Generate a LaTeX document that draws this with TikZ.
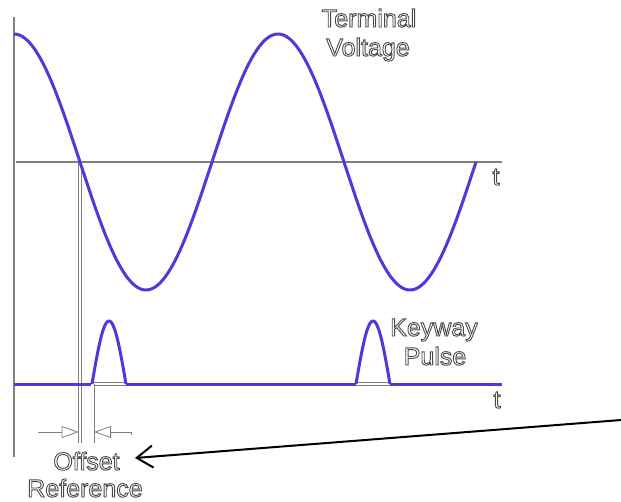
\documentclass[tikz,border=0pt]{standalone}
\usepackage{fontspec}
\setsansfont{Liberation Sans}
\usetikzlibrary{arrows.meta}
\definecolor{wave}{HTML}{5535DC}
\definecolor{axisgray}{HTML}{808080}
\definecolor{textgray}{HTML}{484848}
\newcommand\outltext[1]{\special{pdf:literal direct 1 Tr 0.9 w}#1\special{pdf:literal direct 0 Tr}}
\tikzset{
  axisline/.style={draw=axisgray, line width=1.3pt},
  waveline/.style={draw=wave, line width=3pt, line join=round},
  dblline/.style={draw=axisgray, line width=0.9pt, double=white, double distance=2.2pt},
  lbl/.style={font=\sffamily\fontsize{25}{29}\selectfont, text=textgray, inner sep=0pt, anchor=base},
  offarrow/.style={draw=axisgray, line width=0.8pt, -{Triangle[open, length=17pt, width=12pt, fill=white]}},
  bigarrow/.style={draw=black, line width=2pt, -{Straight Barb[length=16pt, width=22pt, line width=2pt]}}
}
\begin{document}
\begin{tikzpicture}[x=1pt, y=-1pt]
\useasboundingbox (0,0) rectangle (621,501);
% axes
\coordinate (vtop) at (14,17);
\coordinate (vbot) at (14,457);
\draw[axisline] (vtop) -- (vbot);
\coordinate (ha0) at (16,162);
\coordinate (ha1) at (502,162);
\draw[axisline] (ha0) -- (ha1);
% vertical offset lines
\coordinate (v1t) at (80,162);
\coordinate (v1b) at (80,443);
\coordinate (v2t) at (92.5,384);
\coordinate (v2b) at (92.5,443);
\draw[dblline] (v1t) -- (v1b);
% terminal voltage
\draw[waveline] plot[domain=14:476, samples=240, smooth] ({\x},{162-128*cos((\x-14)*1.363636)});
% keyway baseline
\coordinate (b0) at (14,384);
\coordinate (p1a) at (92,384);
\coordinate (p1b) at (126,384);
\coordinate (p2a) at (356,384);
\coordinate (p2b) at (390,384);
\coordinate (b1) at (502,384);
\draw[dblline] (p1a) -- (p1b);
\draw[dblline] (p2a) -- (p2b);
\draw[waveline] (b0) -- (p1a);
\draw[waveline] (p1b) -- (p2a);
\draw[waveline] (p2b) -- (b1);
\draw[dblline] (v2t) -- (v2b);
% pulses
\draw[waveline] plot[domain=92:126, samples=60, smooth] ({\x},{384-63*sin((\x-92)*5.294118)});
\draw[waveline] plot[domain=356:390, samples=60, smooth] ({\x},{384-63*sin((\x-356)*5.294118)});
% offset arrows
\coordinate (la0) at (38,432);
\coordinate (la1) at (78.5,432);
\coordinate (ra0) at (131,432);
\coordinate (ra1) at (94,432);
\draw[offarrow] (la0) -- (la1);
\draw[offarrow] (ra0) -- (ra1);
\draw[draw=axisgray, line width=0.8pt] (ra0) -- ++(0,3);
% labels
\node[lbl] (term) at (369,27) {\outltext{Terminal}};
\node[lbl] (volt) at (368,56) {\outltext{Voltage}};
\node[lbl] (key) at (434,336) {\outltext{Keyway}};
\node[lbl] (pulse) at (435,365) {\outltext{Pulse}};
\node[lbl] (offs) at (86.5,470) {\outltext{Offset}};
\node[lbl] (ref) at (85,497) {\outltext{Reference}};
\node[lbl] (t1) at (496,185) {\outltext{t}};
\node[lbl] (t2) at (497,408) {\outltext{t}};
% pointer arrow
\coordinate (ptr) at (621,420);
\coordinate (ptrtip) at (135,458);
\draw[bigarrow] (ptr) -- (ptrtip);
\end{tikzpicture}
\end{document}
